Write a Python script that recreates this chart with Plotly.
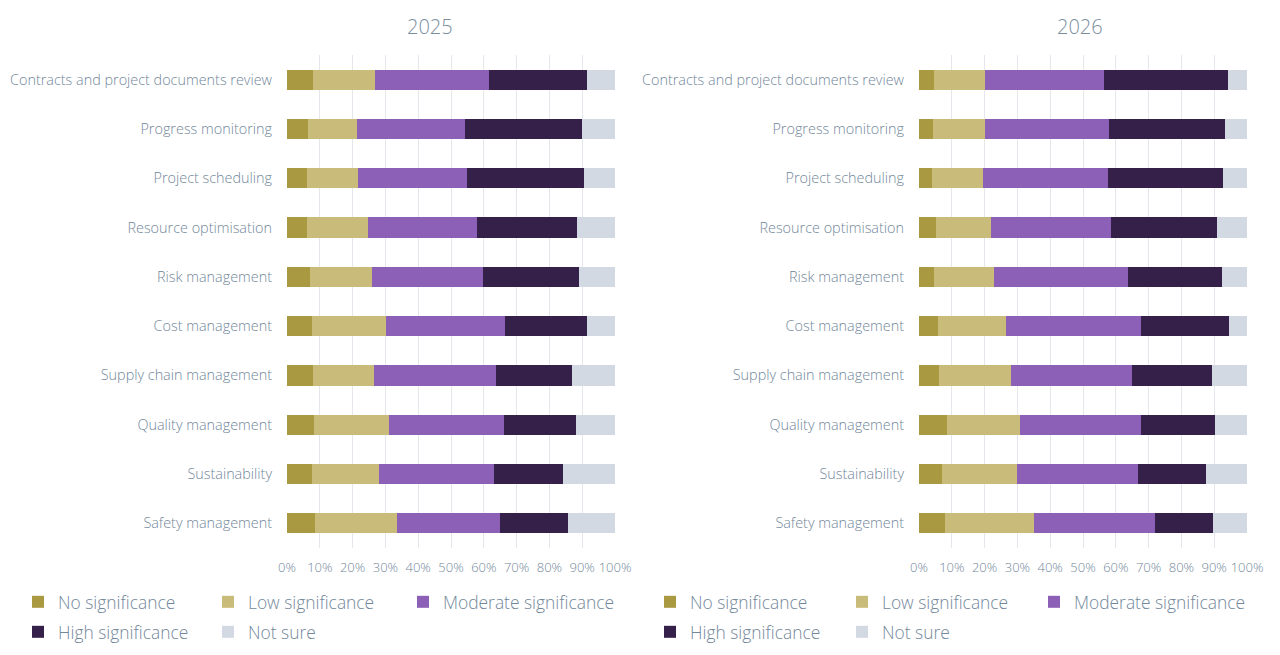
import plotly.graph_objects as go

categories = [
    "Contracts and project documents review",
    "Progress monitoring",
    "Project scheduling",
    "Resource optimisation",
    "Risk management",
    "Cost management",
    "Supply chain management",
    "Quality management",
    "Sustainability",
    "Safety management",
]

series_names = ["No significance", "Low significance", "Moderate significance",
                "High significance", "Not sure"]
colors = ["#A99940", "#C9BB79", "#8C60B6", "#35204A", "#D3D9E3"]

# 2025 values (%)
no_2025 = [8.0, 6.5, 6.2, 6.2, 7.1, 7.7, 7.8, 8.2, 7.7, 8.5]
low_2025 = [18.9, 14.7, 15.4, 18.5, 18.7, 22.6, 18.8, 23.0, 20.4, 25.0]
mod_2025 = [34.8, 33.0, 33.4, 33.3, 34.1, 36.3, 37.0, 34.9, 35.0, 31.3]
high_2025 = [29.8, 35.6, 35.5, 30.3, 29.1, 24.8, 23.4, 22.1, 21.0, 21.0]
ns_2025 = [8.5, 10.2, 9.5, 11.7, 11.0, 8.6, 13.0, 11.8, 15.9, 14.2]

# 2026 values (%)
no_2026 = [4.6, 4.3, 4.0, 5.2, 4.6, 5.7, 6.1, 8.4, 6.9, 8.0]
low_2026 = [15.4, 15.9, 15.6, 16.6, 18.3, 20.8, 21.8, 22.4, 22.9, 27.2]
mod_2026 = [36.4, 37.6, 38.0, 36.6, 40.7, 41.1, 37.0, 36.8, 36.9, 36.8]
high_2026 = [37.9, 35.5, 35.0, 32.3, 28.7, 27.0, 24.3, 22.7, 20.8, 17.5]
ns_2026 = [5.7, 6.7, 7.4, 9.3, 7.7, 5.4, 10.8, 9.7, 12.5, 10.5]

tick_vals = [0, 10, 20, 30, 40, 50, 60, 70, 80, 90, 100]
tick_text = [f"{v}%" for v in tick_vals]

W, H = 1280, 655
FONT = "Open Sans"
TXT = "#72879A"
WT = 300

data_2025 = [no_2025, low_2025, mod_2025, high_2025, ns_2025]
data_2026 = [no_2026, low_2026, mod_2026, high_2026, ns_2026]

# legend text start positions (px) for each series, per panel
leg_text_x = {0: [58, 248, 443, 58, 248], 1: [690, 882, 1074, 690, 882]}
leg_text_y = [602, 602, 602, 632, 632]

fig = go.Figure()
legends = {}
for p, (dataset, xa, ya) in enumerate([(data_2025, "x", "y"), (data_2026, "x2", "y2")]):
    for i, (name, col, vals) in enumerate(zip(series_names, colors, dataset)):
        lid = f"legend{p * 5 + i + 1}" if (p * 5 + i) > 0 else "legend"
        fig.add_trace(go.Bar(y=categories, x=vals, name=name, orientation="h",
                             marker=dict(color=col, line=dict(width=0)),
                             xaxis=xa, yaxis=ya, legend=lid))
        legends[lid] = dict(
            x=(leg_text_x[p][i] - 40) / W, y=1 - leg_text_y[i] / H,
            orientation="h", xanchor="left", yanchor="middle",
            font=dict(family=FONT, size=17.4, color=TXT, weight=WT),
            bgcolor="rgba(0,0,0,0)", itemclick=False, itemdoubleclick=False)

ydom = [1 - 548 / H, 1 - 55 / H]
axis_x = dict(range=[0, 100], tickvals=tick_vals, ticktext=tick_text,
              showgrid=True, gridcolor="#E4E8EC", gridwidth=1, zeroline=False,
              showline=False, ticks="", ticklabelstandoff=10,
              tickfont=dict(family=FONT, size=13, color=TXT, weight=WT),
              fixedrange=True)
axis_y = dict(autorange="reversed", categoryorder="array", categoryarray=categories,
              showgrid=False, zeroline=False, showline=False, ticks="",
              ticklabelstandoff=14,
              tickfont=dict(family=FONT, size=14.4, color=TXT, weight=WT), fixedrange=True)

fig.update_layout(
    width=W, height=H,
    margin=dict(l=0, r=0, t=0, b=0, autoexpand=False),
    paper_bgcolor="white", plot_bgcolor="white",
    barmode="stack", bargap=0.59, showlegend=True,
    font=dict(family=FONT, color=TXT),
    xaxis=dict(domain=[287 / W, 615 / W], anchor="y", **axis_x),
    yaxis=dict(domain=ydom, anchor="x", **axis_y),
    xaxis2=dict(domain=[919 / W, 1247 / W], anchor="y2", **axis_x),
    yaxis2=dict(domain=ydom, anchor="x2", **axis_y),
    annotations=[
        dict(text="2025", x=430 / W, y=1 - 26 / H, xref="paper", yref="paper",
             xanchor="center", yanchor="middle", showarrow=False,
             font=dict(family=FONT, size=20, color="#7A8E9E", weight=WT)),
        dict(text="2026", x=1080 / W, y=1 - 26 / H, xref="paper", yref="paper",
             xanchor="center", yanchor="middle", showarrow=False,
             font=dict(family=FONT, size=20, color="#7A8E9E", weight=WT)),
    ],
    **legends,
)

fig.write_html("out.html", config={"displayModeBar": False},
               post_script="document.body.style.margin='0';document.body.style.padding='0';")
